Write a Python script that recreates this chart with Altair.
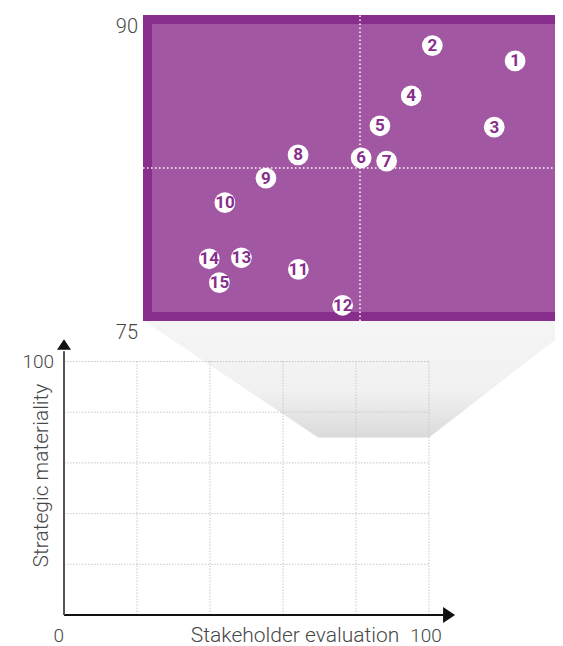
import altair as alt
import pandas as pd

# ---- data ----
topic_ids = list(range(1, 16))
stakeholder_eval = [87.86, 85.0, 87.14, 84.27, 83.19, 82.54, 83.42, 80.36,
                    79.25, 77.83, 80.37, 81.9, 78.40, 77.29, 77.64]
strategic_mat = [87.75, 88.50, 84.50, 86.04, 84.57, 83.0, 82.84, 83.14,
                 82.0, 80.8, 77.53, 75.77, 78.10, 78.05, 76.88]

zoom_y_ticks = [75, 90]
zoom_mid = 82.5
grid_ticks = [0, 20, 40, 60, 80, 100]
main_x_ticks = [0, 100]
main_y_ticks = [100]
x_title = "Stakeholder evaluation"
y_title = "Strategic materiality"

# zoom "spotlight" trapezoid (in main-chart units)
trap_x = [21.6, 69.6, 100.0, 141.6]
trap_top = [116.4, 116.4, 116.4, 116.4]
trap_bottom = [116.4, 70.0, 70.0, 116.4]

PURPLE_DARK = "#882e8c"
PURPLE = "#a257a3"
FONT = "Roboto"
TXT = "#474747"

PAD_L, PAD_B = 56, 31
W, H = 547 - PAD_L, 607

# ---- scales (pixel ranges inside the plot area) ----
PX = alt.Scale(domain=[75, 90], range=[79, 513], zero=False, nice=False)
PY = alt.Scale(domain=[75, 90], range=[313, 7], zero=False, nice=False)
MX = alt.Scale(domain=[0, 100], range=[0, 365], zero=False, nice=False)
MY = alt.Scale(domain=[0, 100], range=[607, 353.5], zero=False, nice=False)


def mx(f):
    return alt.X(f, type="quantitative", scale=MX, axis=None)


def my(f):
    return alt.Y(f, type="quantitative", scale=MY, axis=None)


def px(f):
    return alt.X(f, type="quantitative", scale=PX, axis=None)


def py(f):
    return alt.Y(f, type="quantitative", scale=PY, axis=None)


lbl_style = dict(font=FONT, fontWeight=300, color=TXT)

# ---- main (bottom) chart ----
trap_df = pd.DataFrame({"x": trap_x, "y": trap_top, "y2": trap_bottom})
trap = alt.Chart(trap_df).mark_area(
    interpolate="linear",
    fill=alt.LinearGradient(
        gradient="linear", x1=0, x2=0, y1=0, y2=1,
        stops=[alt.GradientStop(color="#f5f5f5", offset=0),
               alt.GradientStop(color="#f1f1f1", offset=0.6),
               alt.GradientStop(color="#dadada", offset=1)]),
).encode(x=mx("x"), y=my("y"), y2="y2:Q")

grid_df = pd.DataFrame({"g": grid_ticks[1:], "lo": 0, "hi": 100})
vgrid = alt.Chart(grid_df).mark_rule(color="#c8c8c8", strokeWidth=1, strokeDash=[1.5, 1.5]).encode(
    x=mx("g"), y=my("lo"), y2="hi:Q")
hgrid = alt.Chart(grid_df).mark_rule(color="#c8c8c8", strokeWidth=1, strokeDash=[1.5, 1.5]).encode(
    y=my("g"), x=mx("lo"), x2="hi:Q")

axis_df = pd.DataFrame({"zero": [0], "end": [104]})
x_line = alt.Chart(axis_df).mark_rule(color="#111111", strokeWidth=2).encode(
    x=mx("zero"), x2="end:Q", y=my("zero"))
y_line = alt.Chart(axis_df).mark_rule(color="#555555", strokeWidth=2).encode(
    x=mx("zero"), y=my("zero"), y2="end:Q")
x_arrow = alt.Chart(pd.DataFrame({"x": [105.5], "y": [0]})).mark_point(
    shape="M-0.75,-1L0.75,0L-0.75,1Z", filled=True, size=256, color="#111111", opacity=1
).encode(x=mx("x"), y=my("y"))
y_arrow = alt.Chart(pd.DataFrame({"x": [0], "y": [106.7]})).mark_point(
    shape="M-1,0.75L0,-0.75L1,0.75Z", filled=True, size=196, color="#111111", opacity=1
).encode(x=mx("x"), y=my("y"))

# tick labels of the main chart
x0_lbl = alt.Chart(pd.DataFrame({"v": main_x_ticks[:1], "b": [0]})).mark_text(
    fontSize=19, align="right", baseline="alphabetic", dy=27, dx=0, **lbl_style
).encode(x=mx("v"), y=my("b"), text="v:N")
x1_lbl = alt.Chart(pd.DataFrame({"v": main_x_ticks[1:], "b": [0]})).mark_text(
    fontSize=19, align="center", baseline="alphabetic", dy=27, dx=-3, **lbl_style
).encode(x=mx("v"), y=my("b"), text="v:N")
y_lbl = alt.Chart(pd.DataFrame({"v": main_y_ticks, "b": [0]})).mark_text(
    fontSize=19, align="right", baseline="middle", dx=-10, **lbl_style
).encode(x=mx("b"), y=my("v"), text="v:N")

# axis titles (placed in main-chart units)
xt = alt.Chart(pd.DataFrame({"t": [x_title], "x": [63.3], "y": [0]})).mark_text(
    fontSize=21, align="center", baseline="alphabetic", dy=27, **lbl_style
).encode(x=mx("x"), y=my("y"), text="t:N")
yt = alt.Chart(pd.DataFrame({"t": [y_title], "x": [-5.9], "y": [55.0]})).mark_text(
    fontSize=21, align="center", baseline="middle", angle=270, **lbl_style
).encode(x=mx("x"), y=my("y"), text="t:N")

main = alt.layer(trap, vgrid, hgrid, x_line, y_line, x_arrow, y_arrow,
                 x0_lbl, x1_lbl, y_lbl, xt, yt)

# ---- zoomed purple panel ----
outer = alt.Chart(pd.DataFrame({"x": [75], "x2": [92], "y": [75], "y2": [90]})).mark_rect(
    color=PURPLE_DARK).encode(x=px("x"), x2="x2:Q", y=py("y"), y2="y2:Q")
inner = alt.Chart(pd.DataFrame({"x": [75.31], "x2": [92], "y": [75.44], "y2": [89.56]})).mark_rect(
    color=PURPLE).encode(x=px("x"), x2="x2:Q", y=py("y"), y2="y2:Q")
mid_df = pd.DataFrame({"m": [zoom_mid], "lo": [75], "hi": [90], "hix": [92]})
vmid = alt.Chart(mid_df).mark_rule(color="white", strokeWidth=1.5, strokeDash=[1.5, 2.5]).encode(
    x=px("m"), y=py("lo"), y2="hi:Q")
hmid = alt.Chart(mid_df).mark_rule(color="white", strokeWidth=1.5, strokeDash=[1.5, 2.5]).encode(
    y=py("m"), x=px("lo"), x2="hix:Q")

pts = pd.DataFrame({"id": topic_ids, "se": stakeholder_eval, "sm": strategic_mat})
circles = alt.Chart(pts).mark_circle(size=430, color="white", opacity=1).encode(
    x=px("se"), y=py("sm"))
nums = alt.Chart(pts).mark_text(
    font="Liberation Sans Narrow, Roboto", fontWeight="bold", fontSize=17,
    color=PURPLE_DARK, align="center", baseline="middle", dy=0.5
).encode(x=px("se"), y=py("sm"), text="id:N")

# tick labels of the zoom panel
zy_lbl = alt.Chart(pd.DataFrame({"v": zoom_y_ticks, "b": [75, 75]})).mark_text(
    fontSize=20, align="right", baseline="alphabetic", dx=-5, dy=18, **lbl_style
).encode(x=px("b"), y=py("v"), text="v:N")

zoom = alt.layer(outer, inner, vmid, hmid, circles, nums, zy_lbl)

chart = alt.layer(main, zoom).resolve_scale(
    x="independent", y="independent"
).properties(
    width=W, height=H,
    padding={"left": PAD_L, "top": 0, "right": 0, "bottom": PAD_B},
    autosize=alt.AutoSizeParams(type="none"),
).configure_view(stroke=None)

chart.save("out.html", embed_options={"renderer": "svg", "actions": False})
